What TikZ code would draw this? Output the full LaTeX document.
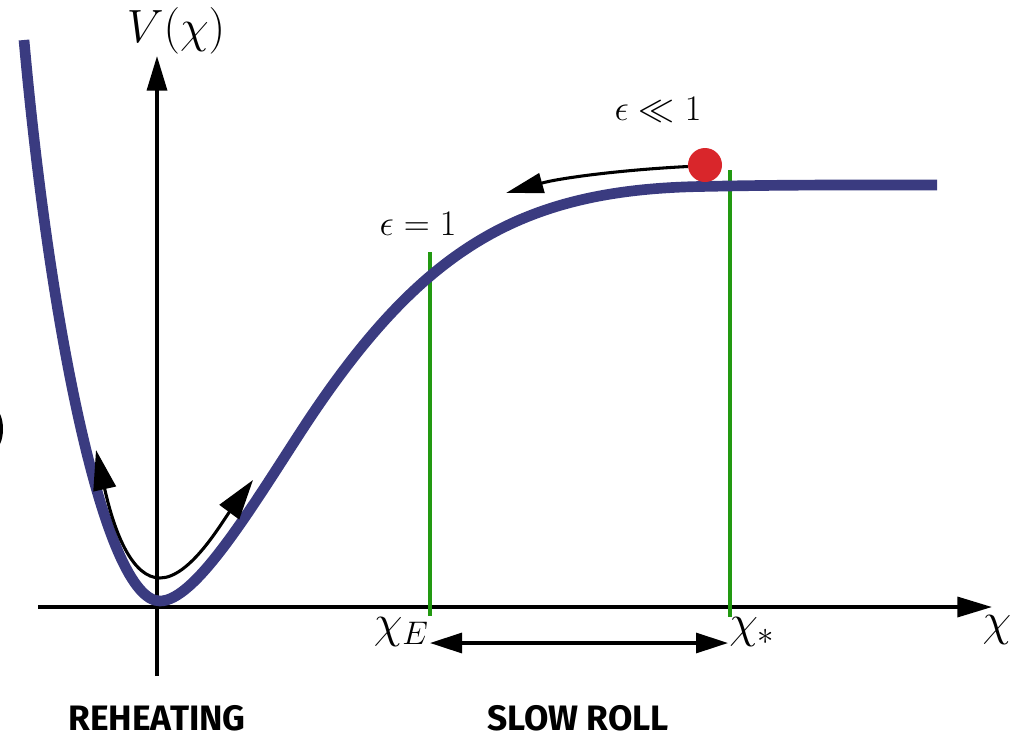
\documentclass[tikz,border=0pt]{standalone}
\usepackage{fix-cm}
\usepackage{amssymb}
\usepackage{fontspec}
\newfontfamily\labelfont{Fira Sans}
\usetikzlibrary{arrows.meta}
\definecolor{potblue}{RGB}{58,59,128}
\definecolor{markgreen}{RGB}{34,153,17}
\definecolor{ballred}{RGB}{217,38,43}
\tikzset{
  axisline/.style={line width=2.6pt, -{Triangle[length=26pt,width=15pt]}},
  potential/.style={line width=8pt, potblue},
  marker/.style={line width=2.6pt, markgreen},
  motion/.style={line width=2.3pt},
  mathlbl/.style={inner sep=0pt, font=\fontsize{35}{40}\selectfont},
  epslbl/.style={inner sep=0pt, font=\fontsize{27}{32}\selectfont},
  phaselbl/.style={inner sep=0pt, anchor=base, text depth=0pt, font=\labelfont\bfseries\fontsize{26.5}{30}\selectfont},
}
\begin{document}
\begin{tikzpicture}[x=0.75pt,y=-0.75pt]
\useasboundingbox (0,0) rectangle (1031,736);
% clipped glyph fragment on left edge
\fill (0,414) .. controls (4,422) and (4,436) .. (0,444) -- cycle;
% axes
\coordinate (xa0) at (38,607);
\coordinate (xa1) at (992,607);
\coordinate (ya0) at (157,676);
\coordinate (ya1) at (157,56);
\draw[axisline] (xa0) -- (xa1);
\draw[axisline] (ya0) -- (ya1);
% green markers
\coordinate (gE0) at (430,252);
\coordinate (gE1) at (430,616);
\coordinate (gS0) at (730,170);
\coordinate (gS1) at (730,617);
\draw[marker] (gE0) -- (gE1);
\draw[marker] (gS0) -- (gS1);
% potential
\coordinate (pTop) at (24,40);
\coordinate (pMin) at (160,601);
\coordinate (pA) at (300,433);
\coordinate (pB) at (700,186.5);
\coordinate (pC) at (860,185);
\coordinate (pEnd) at (937,185);
\draw[potential] (pTop) .. controls (50,330) and (105,601) .. (pMin)
  .. controls (195,601) and (250,510) .. (pA)
  .. controls (420,248) and (520,190) .. (pB)
  .. controls (760,185.3) and (800,185) .. (pC) -- (pEnd);
% ball and its arrow
\node[circle, fill=ballred, minimum size=25.5pt, inner sep=0pt] (ball) at (705,165) {};
\coordinate (rollend) at (506,193);
\draw[motion, -{Triangle[length=28pt,width=15pt]}] (ball.185) .. controls (620,170) and (560,178) .. (rollend);
% reheating oscillation
\coordinate (osL) at (96,450);
\coordinate (osM) at (160,578);
\coordinate (osR) at (253,480);
\draw[motion, {Triangle[length=30pt,width=17pt]}-{Triangle[length=30pt,width=18pt]}]
  (osL) .. controls (115,535) and (133,578) .. (osM) .. controls (190,578) and (222,522) .. (osR);
% slow-roll range arrow
\coordinate (rE) at (430,643);
\coordinate (rS) at (728,643);
\draw[motion, {Triangle[length=24pt,width=15pt]}-{Triangle[length=24pt,width=15pt]}] (rE) -- (rS);
% labels
\node[mathlbl] (Vlbl) at (176,31) {$V(\chi)$};
\node[mathlbl] (xlbl) at (997,630) {$\chi$};
\node[mathlbl, anchor=east] (xElbl) at (429,632) {$\chi_E$};
\node[mathlbl, anchor=west] (xSlbl) at (729,632) {$\chi_*$};
\node[epslbl] (eps1) at (418,224) {$\epsilon = 1$};
\node[epslbl] (epsll) at (658,110) {$\epsilon \ll 1$};
\node[phaselbl] (reh) at (157,730) {REHEATING};
\node[phaselbl] (slow) at (578,730) {SLOW ROLL};
\end{tikzpicture}
\end{document}
